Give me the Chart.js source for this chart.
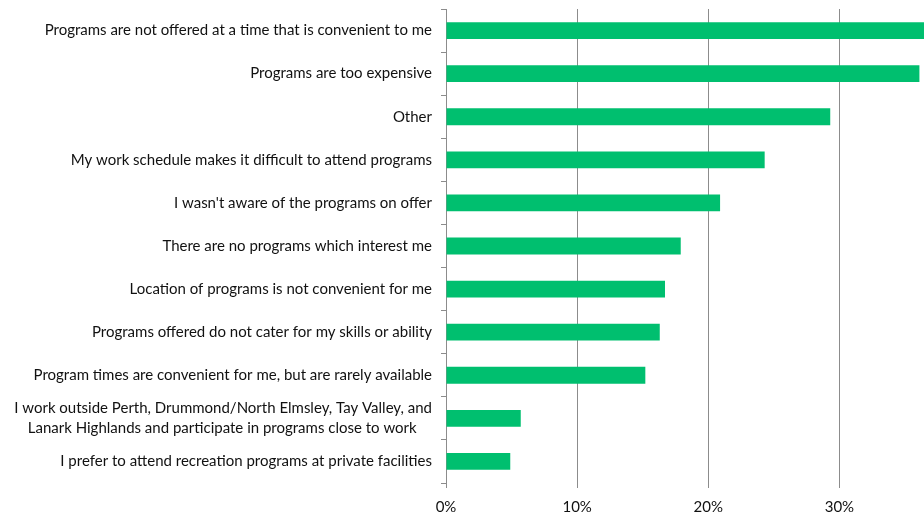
<!DOCTYPE html>
<html>
<head>
<meta charset="utf-8">
<script src="https://cdn.jsdelivr.net/npm/chart.js@4.4.1/dist/chart.umd.min.js"></script>
<style>
	html, body { margin: 0; padding: 0; background: #ffffff; }
	#wrap { width: 924px; height: 518px; }
</style>
</head>
<body>
<div id="wrap"><canvas id="chart" width="924" height="518"></canvas></div>
<script>
// reasons, top to bottom
var reasons = [
	"Programs are not offered at a time that is convenient to me",
	"Programs are too expensive",
	"Other",
	"My work schedule makes it difficult to attend programs",
	"I wasn't aware of the programs on offer",
	"There are no programs which interest me",
	"Location of programs is not convenient for me",
	"Programs offered do not cater for my skills or ability",
	"Program times are convenient for me, but are rarely available",
	// trailing spaces keep the second line centred under the first
	["I work outside Perth, Drummond/North Elmsley, Tay Valley, and", "Lanark Highlands and participate in programs close to work    "],
	"I prefer to attend recreation programs at private facilities"
];

// share of respondents, % (first bar runs off the picture)
var shares = [38.0, 36.1, 29.3, 24.3, 20.9, 17.9, 16.7, 16.3, 15.2, 5.7, 4.9];

var xTicks = [0, 10, 20, 30];

var green = "#00bf6f",
	grey = "#8c8c8c",
	font = "Lato, 'Open Sans', sans-serif";

new Chart(document.getElementById("chart"), {
	type: "bar",
	data: {
		labels: reasons,
		datasets: [{
			data: shares,
			backgroundColor: green,
			borderWidth: 0,
			categoryPercentage: 1,
			barPercentage: 0.39
		}]
	},
	options: {
		indexAxis: "y",
		responsive: false,
		animation: false,
		layout: { padding: { top: 9, left: 0, right: 0, bottom: 0 } },
		plugins: { legend: { display: false }, tooltip: { enabled: false } },
		scales: {
			x: {
				min: 0,
				max: 36.45,
				afterBuildTicks: function (scale) {
					scale.ticks = xTicks.map(function (v) { return { value: v }; });
				},
				afterFit: function (scale) {
					scale.height = 35;
					scale.paddingLeft = 0;
					scale.paddingRight = 0;
				},
				grid: { color: grey, lineWidth: 1, tickLength: 5, drawTicks: true },
				border: { display: false },
				ticks: {
					padding: 10,
					color: "#111111",
					font: { family: font, size: 15 },
					callback: function (v) { return v + "%"; }
				}
			},
			y: {
				afterFit: function (scale) {
					scale.width = 446;
					scale.paddingTop = 0;
					scale.paddingBottom = 0;
				},
				grid: { drawOnChartArea: false, color: grey, tickLength: 5, offset: true },
				border: { display: true, color: grey, width: 1 },
				ticks: {
					padding: 9,
					color: "#111111",
					autoSkip: false,
					font: { family: font, size: 15, lineHeight: 1.33 }
				}
			}
		}
	}
});
</script>
</body>
</html>
